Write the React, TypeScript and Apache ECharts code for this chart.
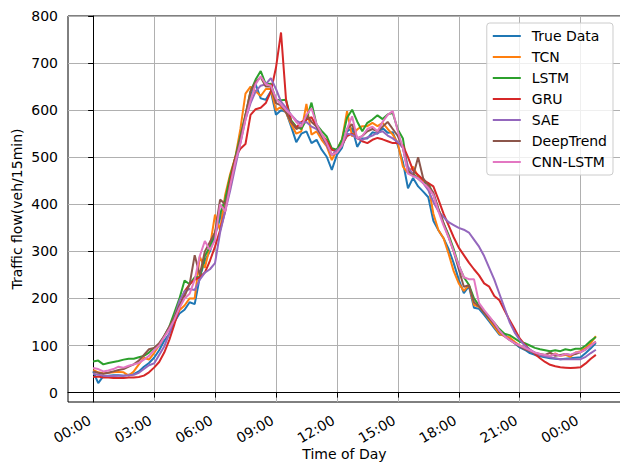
import React, { useEffect, useRef } from "react";
import * as echarts from "echarts";

const SERIES_NAMES = ["True Data", "TCN", "LSTM", "GRU", "SAE", "DeepTrend", "CNN-LSTM"];
const SERIES_COLORS = ["#1f77b4", "#ff7f0e", "#2ca02c", "#d62728", "#9467bd", "#8c564b", "#e377c2"];

// 15-minute samples, 00:00 to 00:45 of the next day
const TRUE_DATA = [
  45, 20, 35, 36, 37, 37, 36, 38, 39, 45,
  55, 63, 74, 90, 110, 125, 150, 168, 176, 192,
  188, 245, 280, 300, 335, 370, 398, 440, 490, 535,
  585, 630, 655, 625, 622, 640, 590, 600, 596, 565,
  532, 550, 555, 530, 537, 516, 501, 473, 505, 520,
  555, 562, 522, 540, 540, 553, 550, 562, 552, 553,
  525, 490, 434, 456, 438, 427, 415, 365, 345, 328,
  305, 275, 240, 211, 226, 180, 178, 165, 151, 137,
  123, 123, 115, 105, 96, 91, 84, 80, 77, 75,
  73, 72, 71, 72, 73, 74, 75, 84, 94, 105,
];
const TCN = [
  48, 43, 41, 42, 43, 44, 43, 36, 45, 60,
  74, 70, 84, 100, 120, 135, 155, 175, 185, 200,
  200, 289, 265, 310, 378, 345, 420, 465, 500, 560,
  635, 650, 640, 630, 645, 645, 600, 607, 595, 570,
  550, 555, 613, 548, 555, 537, 523, 494, 516, 537,
  598, 544, 559, 566, 566, 573, 566, 573, 560, 548,
  530, 480, 466, 480, 459, 450, 441, 380, 345, 328,
  295, 258, 232, 216, 229, 186, 182, 170, 155, 140,
  125, 120, 117, 108, 100, 95, 90, 84, 80, 80,
  78, 83, 78, 80, 76, 85, 88, 95, 105, 120,
];
const LSTM = [
  66, 68, 60, 63, 65, 67, 70, 72, 72, 75,
  78, 85, 95, 100, 120, 140, 170, 200, 238, 230,
  245, 245, 290, 310, 340, 380, 410, 460, 500, 545,
  590, 640, 665, 683, 655, 656, 622, 621, 622, 578,
  565, 560, 580, 616, 569, 556, 544, 519, 516, 537,
  584, 601, 576, 555, 573, 580, 589, 581, 591, 594,
  559, 540, 470, 465, 455, 445, 445, 420, 390, 360,
  335, 305, 270, 245, 229, 200, 185, 172, 160, 148,
  135, 125, 122, 115, 108, 105, 100, 95, 92, 90,
  88, 90, 88, 92, 90, 93, 93, 100, 110, 118,
];
const GRU = [
  33, 34, 32, 32, 31, 31, 31, 32, 32, 33,
  36, 43, 53, 65, 85, 112, 145, 180, 215, 230,
  240, 245, 255, 280, 310, 345, 385, 450, 500, 518,
  528, 590, 602, 605, 615, 640, 690, 765, 620, 575,
  563, 575, 580, 585, 565, 548, 535, 516, 512, 526,
  545, 550, 541, 534, 530, 537, 541, 538, 534, 530,
  530, 525, 500, 472, 462, 452, 445, 438, 410, 380,
  355, 330, 308, 292, 276, 262, 249, 232, 225, 205,
  196, 175, 154, 135, 115, 102, 91, 82, 73, 65,
  59, 56, 54, 53, 52, 53, 54, 62, 72, 80,
];
const SAE = [
  40, 38, 36, 35, 35, 36, 36, 37, 38, 42,
  50, 58, 62, 80, 98, 125, 160, 195, 215, 220,
  218, 240, 255, 262, 275, 340, 385, 430, 480, 530,
  580, 615, 640, 652, 655, 668, 645, 618, 605, 590,
  578, 572, 575, 565, 560, 545, 525, 505, 515, 525,
  550, 548, 540, 537, 542, 546, 552, 555, 546, 540,
  532, 520, 480, 462, 455, 445, 430, 405, 385, 373,
  362, 356, 350, 346, 340, 325, 310, 290, 265, 240,
  210, 180, 150, 128, 112, 100, 91, 85, 80, 77,
  75, 73, 71, 71, 71, 71, 71, 76, 84, 91,
];
const DEEP_TREND = [
  45, 42, 40, 42, 45, 48, 50, 55, 60, 68,
  80, 92, 95, 105, 120, 140, 160, 185, 205, 230,
  292, 250, 300, 320, 340, 410, 400, 440, 495, 540,
  590, 640, 660, 670, 650, 650, 615, 610, 595, 575,
  560, 565, 590, 575, 565, 545, 528, 505, 510, 525,
  560, 570, 540, 545, 555, 560, 555, 565, 575, 560,
  545, 520, 470, 460, 500, 455, 440, 425, 390, 360,
  330, 300, 262, 225, 228, 192, 183, 170, 158, 145,
  130, 120, 112, 105, 98, 92, 88, 84, 82, 80,
  85, 78, 80, 82, 80, 82, 86, 92, 100, 108,
];
const CNN_LSTM = [
  52, 50, 45, 47, 50, 55, 53, 57, 60, 63,
  70, 78, 90, 100, 118, 135, 155, 180, 200, 210,
  240, 290, 322, 303, 324, 400, 385, 440, 490, 530,
  580, 621, 655, 672, 655, 652, 625, 612, 600, 590,
  575, 565, 590, 604, 570, 550, 530, 505, 510, 525,
  560, 587, 540, 545, 560, 565, 555, 575, 590, 598,
  555, 520, 465, 460, 455, 445, 435, 420, 385, 355,
  330, 300, 270, 245, 241, 241, 190, 175, 162, 148,
  132, 120, 112, 105, 100, 95, 90, 85, 82, 80,
  78, 82, 78, 82, 80, 85, 86, 92, 100, 108,
];

const STEP_HOURS = 0.25;
const X_TICKS = [0, 3, 6, 9, 12, 15, 18, 21, 24];
const X_TICK_LABELS = ["00:00", "03:00", "06:00", "09:00", "12:00", "15:00", "18:00", "21:00", "00:00"];
const Y_TICKS = [0, 100, 200, 300, 400, 500, 600, 700, 800];

const FONT = "DejaVu Sans";

export default function App() {
  const ref = useRef<HTMLDivElement>(null);
  useEffect(() => {
    document.body.style.margin = "0";
    const chart = echarts.init(ref.current!, null, { renderer: "svg" });
    const all = [TRUE_DATA, TCN, LSTM, GRU, SAE, DEEP_TREND, CNN_LSTM];
    const lastX = (TRUE_DATA.length - 1) * STEP_HOURS;
    const pad = lastX * 0.05;
    chart.setOption({
      animation: false,
      grid: {
        left: 68,
        right: -1,
        top: 16,
        bottom: 60,
        show: true,
        borderColor: "#000",
        borderWidth: 1,
        containLabel: false,
        outerBoundsMode: "none",
      },
      xAxis: {
        type: "value",
        min: -pad,
        max: lastX + pad,
        name: "Time of Day",
        nameLocation: "middle",
        nameGap: 45,
        nameMoveOverlap: false,
        nameTextStyle: { fontSize: 14, color: "#000", fontFamily: FONT },
        axisLine: { show: true, lineStyle: { color: "#000", width: 1 } },
        axisTick: { show: true, customValues: X_TICKS, length: 5, lineStyle: { color: "#000", width: 1 } },
        axisLabel: {
          customValues: X_TICKS,
          formatter: (v: number) => X_TICK_LABELS[X_TICKS.indexOf(v)] ?? "",
          rotate: 30,
          align: "right",
          verticalAlign: "bottom",
          margin: 23,
          fontSize: 14,
          color: "#000",
          fontFamily: FONT,
        },
        splitLine: { show: true, lineStyle: { color: "#b0b0b0", width: 1 } },
      },
      yAxis: {
        type: "value",
        min: -20,
        max: 800,
        name: "Traffic flow(veh/15min)",
        nameLocation: "middle",
        nameGap: 44,
        nameMoveOverlap: false,
        nameTextStyle: { fontSize: 14, color: "#000", fontFamily: FONT },
        axisLine: { show: true, lineStyle: { color: "#000", width: 1 } },
        axisTick: { show: true, customValues: Y_TICKS, length: 5, lineStyle: { color: "#000", width: 1 } },
        axisLabel: {
          customValues: Y_TICKS,
          margin: 10,
          fontSize: 14,
          color: "#000",
          fontFamily: FONT,
        },
        splitLine: { show: true, lineStyle: { color: "#b0b0b0", width: 1 } },
      },
      legend: {
        orient: "vertical",
        right: 7,
        top: 23,
        data: SERIES_NAMES,
        icon: "rect",
        itemWidth: 28,
        itemHeight: 2,
        itemGap: 7,
        padding: [6, 6, 6, 6],
        backgroundColor: "rgba(255,255,255,0.8)",
        borderColor: "#cccccc",
        borderWidth: 1,
        borderRadius: 3,
        selectedMode: false,
        textStyle: { fontSize: 14, color: "#000", fontFamily: FONT, padding: [0, 0, 0, 6], lineHeight: 14 },
      },
      series: all.map((vals, k) => ({
        name: SERIES_NAMES[k],
        type: "line",
        data: vals.map((v, i) => [i * STEP_HOURS, v]),
        showSymbol: false,
        symbol: "none",
        lineStyle: { width: 2, color: SERIES_COLORS[k] },
        itemStyle: { color: SERIES_COLORS[k] },
        emphasis: { disabled: true },
      })),
    });
    return () => chart.dispose();
  }, []);
  return <div ref={ref} style={{ position: "absolute", left: 0, top: 0, width: 620, height: 462 }} />;
}
